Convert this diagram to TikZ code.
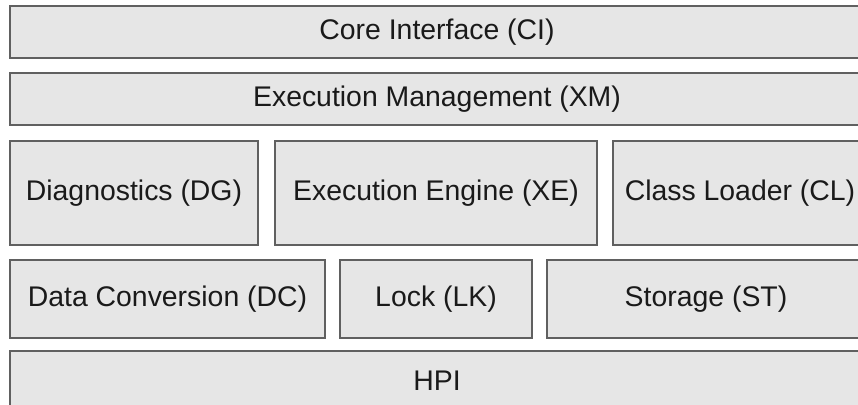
\documentclass[tikz,border=0pt]{standalone}
\usepackage{fontspec}
\setmainfont{Liberation Sans}
\definecolor{boxfill}{HTML}{E6E6E6}
\definecolor{boxline}{HTML}{606060}
\definecolor{txt}{HTML}{1A1A1A}
\begin{document}
\begin{tikzpicture}[x=1pt,y=-1pt,
  layer/.style={draw=boxline,fill=boxfill,line width=1.4pt,rectangle,inner sep=0pt,
    text=txt,font=\fontsize{28.4}{33}\selectfont}]
\useasboundingbox (0,0) rectangle (858,404);
\clip (0,0) rectangle (858,404);
\newcommand{\layerbox}[6]{%
  \node[layer,minimum width=#4-#2,minimum height=#5-#3] (#1) at ({(#2+#4)/2},{(#3+#5)/2}) {#6};}
\layerbox{ci}{10}{6}{864}{58}{Core Interface (CI)}
\layerbox{xm}{10}{73}{864}{125}{Execution Management (XM)}
\layerbox{dg}{10}{141}{258}{245}{Diagnostics (DG)}
\layerbox{xe}{275}{141}{597}{245}{Execution Engine (XE)}
\layerbox{cl}{613}{141}{867}{245}{Class Loader (CL)}
\layerbox{dc}{10}{260}{325}{338}{Data Conversion (DC)}
\layerbox{lk}{340}{260}{532}{338}{Lock (LK)}
\layerbox{st}{547}{260}{865}{338}{Storage (ST)}
\layerbox{hpi}{10}{351}{864}{411}{HPI}
\end{tikzpicture}
\end{document}
